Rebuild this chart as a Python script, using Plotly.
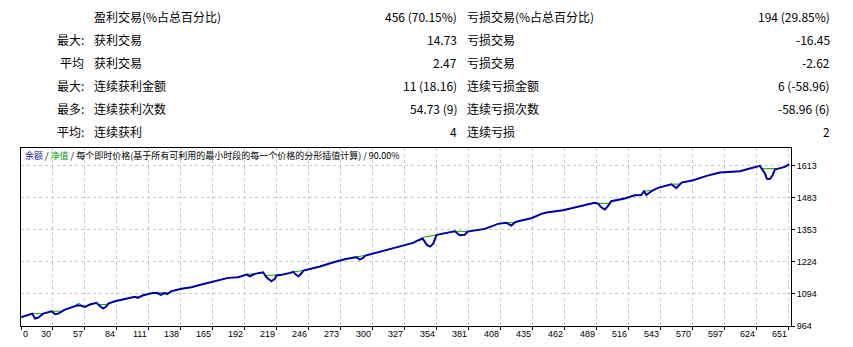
import plotly.graph_objects as go

# ---------------- data ----------------
row_prefix = ["", "最大:", "平均", "最大:", "最多:", "平均:"]
win_labels = ["盈利交易(%占总百分比)", "获利交易", "获利交易", "连续获利金额", "连续获利次数", "连续获利"]
win_values = ["456 (70.15%)", "14.73", "2.47", "11 (18.16)", "54.73 (9)", "4"]
loss_labels = ["亏损交易(%占总百分比)", "亏损交易", "亏损交易", "连续亏损金额", "连续亏损次数", "连续亏损"]
loss_values = ["194 (29.85%)", "-16.45", "-2.62", "6 (-58.96)", "-58.96 (6)", "2"]

# blue curve (with floating drawdowns)
eq_trades = [0, 7.6, 9.5, 11.8, 14.6, 18.8, 25.8, 28.7, 31.5, 37.1, 42.7, 47.8, 51.1, 54, 58.2,
             63.8, 66, 69.4, 72, 73.7, 79.3, 87.8, 96.2, 98.4, 100.5, 103.2, 110.2, 114.4, 118.1,
             120.9, 123.4, 127, 135.5, 143.9, 152.4, 160.8, 169.3, 174.9, 183.3, 187.6, 190.5,
             193.2, 197.4, 204.4, 207.2, 211.4, 214.3, 215.7, 219.9, 227.2, 229.8, 232, 234.2,
             236.5, 238.4, 252.5, 263.8, 275.1, 283.2, 286, 288.5, 290.8, 301.5, 312.7, 321.1,
             331, 335, 339, 342.6, 345.3, 348, 350.7, 354.9, 366.2, 370.4, 374.6, 377, 378.8,
             391.5, 402.7, 409.7, 413.9, 417, 419.6, 430.8, 439.3, 443.5, 457.6, 470.2, 484.3,
             487.1, 489.6, 492.8, 495.1, 498.3, 509.6, 518.1, 523.6, 525.9, 527.9, 530.1, 533.5,
             537.7, 549, 553.2, 555.5, 557.7, 567.5, 578.8, 590, 601.3, 606.9, 615.3, 623.8,
             628, 629.7, 632.2, 634.5, 636.4, 639.2, 644.8, 648.5]
eq_values = [999, 1011.5, 1014, 994, 998, 1014, 1023.6, 1011.5, 1014, 1030.5, 1038.6, 1047.9, 1045.5, 1041.4, 1050.7,
             1057.6, 1047, 1034.6, 1042.7, 1054.9, 1064.2, 1073.9, 1082, 1078, 1083, 1088.4, 1096.5, 1098.1, 1090,
             1097, 1093, 1104.5, 1114.3, 1120.7, 1131.6, 1140.9, 1150.6, 1158.7, 1161.2, 1169.3, 1172,
             1165.2, 1175, 1181.4, 1161.2, 1145, 1154.8, 1168.1, 1170.9, 1179, 1183, 1172, 1165,
             1175, 1188.3, 1204.5, 1221.9, 1235.6, 1242, 1233, 1238, 1249, 1262.3, 1276.3, 1286.8,
             1300.3, 1310, 1318, 1292, 1285, 1297, 1332, 1336.7, 1347.2, 1331, 1333, 1346, 1347.5,
             1356.9, 1377.1, 1381.1, 1370.3, 1383, 1387.7, 1399.8, 1417.6, 1422.9, 1432.2, 1445.9, 1462.1,
             1459, 1445, 1435, 1447, 1468.6, 1479.5, 1492.9, 1494, 1509, 1494, 1502, 1513,
             1522.8, 1537.4, 1522, 1535, 1544.2, 1553.5, 1571.3, 1584.7, 1590, 1590, 1600.9, 1611.8,
             1580.6, 1559.2, 1558.4, 1573.8, 1596.8, 1600.9, 1607.7, 1618.3]

# green curve
bal_trades = [0, 7.6, 9.5, 18.8, 25.8, 34.2, 37.1, 42.7, 46.5, 47.5, 50, 51.1, 54, 58.2, 63.8, 65.4,
              72.5, 73.7, 79.3, 87.8, 96.2, 99.5, 103.2, 110.2, 114.4, 125.5, 127, 135.5, 143.9,
              152.4, 160.8, 169.3, 174.9, 183.3, 187.6, 191, 196, 197.4, 204.4, 206.1, 215.7, 219.9,
              227.2, 229.8, 238.4, 252.5, 263.8, 275.1, 281, 290.8, 301.5, 312.7, 321.1, 331, 335,
              339, 340.5, 350.7, 354.9, 366.2, 376.5, 378.8, 391.5, 402.7, 409.7, 416.5, 419.6,
              430.8, 439.3, 443.5, 457.6, 470.2, 484.3, 487, 496, 498.3, 509.6, 518.1, 523.6, 525.9,
              533.5, 537.7, 549, 556.5, 557.7, 567.5, 578.8, 590, 601.3, 606.9, 615.3, 623.8,
              625.2, 637.5, 639.2, 644.8, 648.5]
bal_values = [999, 1011.5, 1014, 1014, 1023.6, 1024, 1030.5, 1038.6, 1046, 1054, 1054, 1045.5, 1041.4, 1050.7, 1057.6, 1050.7,
              1051, 1054.9, 1064.2, 1073.9, 1082, 1082, 1088.4, 1096.5, 1098.1, 1098.5, 1104.5, 1114.3, 1120.7,
              1131.6, 1140.9, 1150.6, 1158.7, 1161.2, 1169.3, 1174, 1174, 1175, 1181.4, 1168.1, 1168.1, 1170.9,
              1179, 1183, 1188.3, 1204.5, 1221.9, 1235.6, 1243, 1249, 1262.3, 1276.3, 1286.8, 1300.3, 1310,
              1318, 1324, 1332, 1336.7, 1347.2, 1346.5, 1347.5, 1356.9, 1377.1, 1381.1, 1383, 1387.7,
              1399.8, 1417.6, 1422.9, 1432.2, 1445.9, 1462.1, 1460, 1460, 1468.6, 1479.5, 1492.9, 1494, 1509,
              1513, 1522.8, 1537.4, 1538, 1544.2, 1553.5, 1571.3, 1584.7, 1590, 1590, 1600.9, 1611.8,
              1600, 1599, 1600.9, 1607.7, 1618.3]

x_tick_labels = [0, 30, 57, 84, 111, 138, 165, 192, 219, 246, 273, 300, 327, 354, 381, 408,
                 435, 462, 489, 516, 543, 570, 597, 624, 651]
x_tick_step = 27
y_tick_labels = [964, 1094, 1224, 1353, 1483, 1613]

chart_title = ("<span style='color:#2424a8'>余额</span> / <span style='color:#00a000'>净值</span>"
               " / 每个即时价格(基于所有可利用的最小时段的每一个价格的分形插值计算) / 90.00%")

# ---------------- layout geometry ----------------
W, H = 853, 347
ML, MR, MT, MB = 21, 62, 148, 21
PW, PH = W - ML - MR, H - MT - MB
CJK = "Noto Sans CJK SC"
NUM = "Liberation Sans"


def pxx(px):
    return (px - ML) / PW


def pxy(py):
    return (H - MB - py) / PH


fig = go.Figure()
fig.add_trace(go.Scatter(x=bal_trades, y=bal_values, mode="lines",
                         line=dict(color="#00a800", width=1), hoverinfo="skip"))
fig.add_trace(go.Scatter(x=eq_trades, y=eq_values, mode="lines",
                         line=dict(color="#0000aa", width=2), hoverinfo="skip"))

ann = []
row_y0, row_dy = 16.7, 23
for i in range(len(row_prefix)):
    yy = pxy(row_y0 + row_dy * i)
    common = dict(xref="paper", yref="paper", y=yy, yanchor="middle", showarrow=False,
                  borderpad=0, font=dict(family=CJK, size=12, color="#000000"))
    if row_prefix[i]:
        ann.append(dict(text=row_prefix[i], x=pxx(85), xanchor="right", **common))
    ann.append(dict(text=win_labels[i], x=pxx(92.5), xanchor="left", **common))
    ann.append(dict(text=win_values[i], x=pxx(458), xanchor="right", **common))
    ann.append(dict(text=loss_labels[i], x=pxx(466), xanchor="left", **common))
    ann.append(dict(text=loss_values[i], x=pxx(831), xanchor="right", **common))

ann.append(dict(text=chart_title, xref="paper", yref="paper", x=pxx(23.5), y=pxy(155.7),
                xanchor="left", yanchor="middle", showarrow=False, borderpad=0,
                font=dict(family=CJK, size=9, color="#000000")))

x_tick_pos = [x_tick_step * i for i in range(len(x_tick_labels))]
for i, (p, lab) in enumerate(zip(x_tick_pos, x_tick_labels)):
    ann.append(dict(text=str(lab), xref="x", yref="paper", x=p, y=0, yanchor="top",
                    xanchor="left" if i == 0 else "right", xshift=1 if i == 0 else -1,
                    yshift=-2, showarrow=False, borderpad=0,
                    font=dict(family=NUM, size=9, color="#000000")))

grid = dict(showgrid=True, gridcolor="#c8c8c8", gridwidth=1, griddash="3px,3px", zeroline=False,
            showline=True, linecolor="#000000", linewidth=1, mirror=True,
            ticks="outside", ticklen=3, tickcolor="#000000", tickwidth=1)

fig.update_layout(
    width=W, height=H, margin=dict(l=ML, r=MR, t=MT, b=MB, pad=0),
    paper_bgcolor="#ffffff", plot_bgcolor="#ffffff", showlegend=False,
    font=dict(family=NUM, size=9, color="#000000"),
    xaxis=dict(range=[0, 650], tickmode="array", tickvals=x_tick_pos, showticklabels=False, **grid),
    yaxis=dict(range=[964, 1684], side="right", tickmode="array", tickvals=y_tick_labels,
               ticktext=[str(v) for v in y_tick_labels], tickfont=dict(family=NUM, size=9),
               **grid),
    annotations=ann,
)

fig.write_html("out.html")
